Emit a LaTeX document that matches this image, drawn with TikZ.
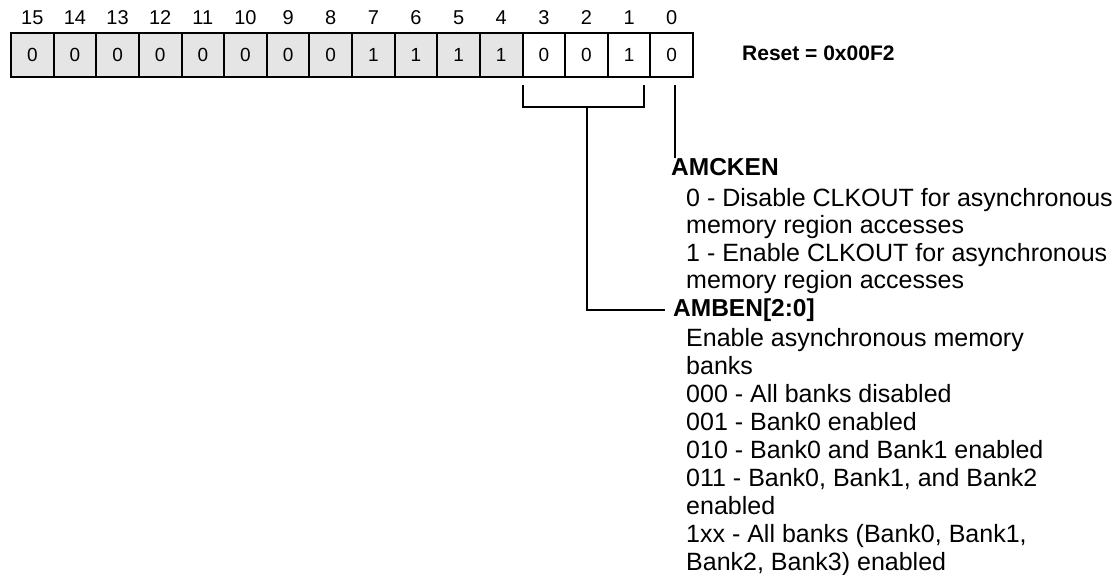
\documentclass[tikz,border=0pt]{standalone}
\usepackage{fontspec}
\setmainfont{Liberation Sans}
\begin{document}
\begin{tikzpicture}[x=1pt,y=-1pt,
  cell/.style={draw, line width=2pt, minimum width=42.625pt, minimum height=44pt, inner sep=0pt, font=\fontsize{19}{22}\selectfont},
  bitno/.style={inner sep=0pt, font=\fontsize{20}{24}\selectfont},
  head/.style={anchor=base west, inner sep=0pt, font=\bfseries\fontsize{24.5}{29}\selectfont},
  desc/.style={anchor=base west, inner sep=0pt, font=\fontsize{25}{30}\selectfont},
  wire/.style={line width=2pt}]
\useasboundingbox (0,0) rectangle (1116,574);
% register cells
\foreach \b/\v in {15/0,14/0,13/0,12/0,11/0,10/0,9/0,8/0,7/1,6/1,5/1,4/1}{
  \pgfmathsetmacro\cx{11+42.625*(15-\b)+21.3125}
  \node[cell, fill=black!10] (c\b) at (\cx,55) {\v};
  \node[bitno] (n\b) at (\cx,18) {\b};
}
\foreach \b/\v in {3/0,2/0,1/1,0/0}{
  \pgfmathsetmacro\cx{11+42.625*(15-\b)+21.3125}
  \node[cell, fill=white] (c\b) at (\cx,55) {\v};
  \node[bitno] (n\b) at (\cx,18) {\b};
}
\node[anchor=base west, inner sep=0pt, font=\bfseries\fontsize{21}{25}\selectfont] (reset) at (742,60) {Reset = 0x00F2};
% AMCKEN
\node[head] (amcken) at (671,175) {AMCKEN};
\node[desc] (a1) at (686,206) {0 - Disable CLKOUT for asynchronous};
\node[desc] (a2) at (686,233) {memory region accesses};
\node[desc] (a3) at (686,261) {1 - Enable CLKOUT for asynchronous};
\node[desc] (a4) at (686,288) {memory region accesses};
% AMBEN
\node[head, inner xsep=8pt] (amben) at (665,316) {AMBEN[2:0]};
\node[desc] (b1) at (686,346) {Enable asynchronous memory};
\node[desc] (b2) at (686,374) {banks};
\node[desc] (b3) at (686,402) {000 - All banks disabled};
\node[desc] (b4) at (686,430) {001 - Bank0 enabled};
\node[desc] (b5) at (686,458) {010 - Bank0 and Bank1 enabled};
\node[desc] (b6) at (686,486) {011 - Bank0, Bank1, and Bank2};
\node[desc] (b7) at (686,514) {enabled};
\node[desc] (b8) at (686,542) {1xx - All banks (Bank0, Bank1,};
\node[desc] (b9) at (686,570) {Bank2, Bank3) enabled};
% connectors
\coordinate (bl) at (523,85);
\coordinate (br) at (644,85);
\coordinate (stem) at (587,107);
\coordinate (ck) at (675,85);
\draw[wire] (bl) |- (stem) -| (br);
\draw[wire] (stem) |- (amben.west);
\draw[wire] (ck) -- (ck |- amcken.north);
\end{tikzpicture}
\end{document}
